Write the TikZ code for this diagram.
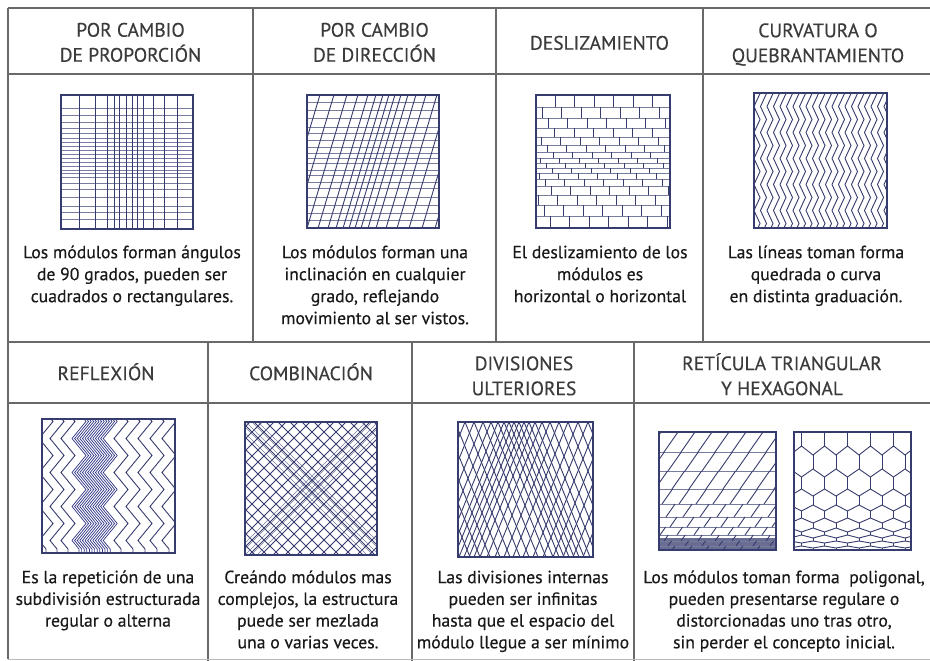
\documentclass[tikz,border=0pt]{standalone}
\usepackage{fontspec}
\setmainfont{PT Sans}[FakeBold=0.35]
\usetikzlibrary{decorations.pathmorphing}
\definecolor{pat}{RGB}{55,60,110}
\definecolor{patl}{RGB}{120,125,160}
\definecolor{rule}{RGB}{105,105,105}
\definecolor{txt}{RGB}{25,25,25}
\tikzset{
  pl/.style={draw=pat, line width=0.9pt},
  pll/.style={draw=patl, line width=0.8pt},
  boxframe/.style={draw=pat, line width=1.1pt},
  tabline/.style={draw=rule, line width=1.3pt},
  hdline/.style={draw=rule, line width=1.8pt},
  ttl/.style={font=\fontsize{19.5}{25}\selectfont, text=txt!85, align=center, inner sep=0pt, anchor=north},
  bodytxt/.style={font=\fontsize{17.7}{22}\selectfont, text=txt, align=center, inner sep=0pt, anchor=north},
  bodytxtb/.style={font=\fontsize{17.7}{21.7}\selectfont, text=txt, align=center, inner sep=0pt, anchor=north},
  zz/.style={decorate, decoration={zigzag, segment length=#1}},
}
\begin{document}
\begin{tikzpicture}[x=1pt,y=-1pt]
\useasboundingbox (0,0) rectangle (930,661);
\fill[white] (0,0) rectangle (930,661);

% ---------- table ----------
\draw[tabline] (8,8) -- (930,8);
\draw[tabline] (8,8) -- (8,659);
\draw[hdline] (8,74) -- (930,74);
\draw[tabline] (8,342) -- (930,342);
\draw[hdline] (8,403) -- (930,403);
\foreach \x in {253,496,703} \draw[tabline] (\x,8) -- (\x,342);
\foreach \x in {208,412,634} \draw[tabline] (\x,342) -- (\x,661);
\draw[rule!45, line width=1pt] (8,659) -- (930,659);

% ---------- titles ----------
\node[ttl] (t1) at (130.5,19) {\strut POR CAMBIO\\DE PROPORCIÓN};
\node[ttl] (t2) at (374.5,19) {\strut POR CAMBIO\\DE DIRECCIÓN};
\node[ttl] (t3) at (599.5,32) {\strut DESLIZAMIENTO};
\node[ttl] (t4) at (818,19.5) {\strut CURVATURA O\\QUEBRANTAMIENTO};
\node[ttl] (t5) at (106,362.5) {\strut REFLEXIÓN};
\node[ttl] (t6) at (311,362.5) {\strut COMBINACIÓN};
\node[ttl] (t7) at (524,352.5) {\strut DIVISIONES\\ULTERIORES};
\node[ttl] (t8) at (782,352.5) {\strut RETÍCULA TRIANGULAR\\Y HEXAGONAL};

% ---------- body texts ----------
\node[bodytxt] (b1) at (132,242.6) {\strut Los módulos forman ángulos\\de 90 grados, pueden ser\\cuadrados o rectangulares.};
\node[bodytxt] (b2) at (375,242.6) {\strut Los módulos forman una\\inclinación en cualquier\\grado, reflejando\\movimiento al ser vistos.};
\node[bodytxt] (b3) at (600,242.6) {\strut El deslizamiento de los\\módulos es\\horizontal o horizontal};
\node[bodytxt] (b4) at (816,242.6) {\strut Las líneas toman forma\\quedrada o curva\\en distinta graduación.};
\node[bodytxtb] (b5) at (108,567.8) {\strut Es la repetición de una\\subdivisión estructurada\\regular o alterna};
\node[bodytxtb] (b6) at (308,567.8) {\strut Creándo módulos mas\\complejos, la estructura\\puede ser mezlada\\una o varias veces.};
\node[bodytxtb] (b7) at (523,567.8) {\strut Las divisiones internas\\pueden ser infinitas\\hasta que el espacio del\\módulo llegue a ser mínimo};
\node[bodytxtb] (b8) at (784,567.8) {\strut Los módulos toman forma\ \ poligonal,\\pueden presentarse regulare o\\distorcionadas uno tras otro,\\sin perder el concepto inicial.};

% ---------- 1: proporcion ----------
\begin{scope}
\clip (61,95) rectangle (193,229);
\foreach \y in {108,115,122,128,133,138,142,146,150,154,158,162,166,170,173,177,183,189,197,206,212,219}
  \draw[pll] (61,\y) -- (193,\y);
\foreach \x in {79,95,107,114,119,126,132,137,143,153,164,177}
  \draw[pl] (\x,95) -- (\x,229);
\end{scope}
\draw[boxframe] (61,95) rectangle (193,229);

% ---------- 2: direccion ----------
\begin{scope}
\clip (307,95) rectangle (439,228);
\foreach \y in {102,110,118,127,133,140,147,153,158,163,170,175,182,188,197,205,213,220}
  \draw[pll] (307,\y) -- (439,\y);
\foreach \m in {300,314,327,338,348,356,363,369,375,381,388,396,406,417,429,442,455}
  \draw[pl] (\m-22,235) -- (\m+22,88);
\end{scope}
\draw[boxframe] (307,95) rectangle (439,228);

% ---------- 3: deslizamiento ----------
\begin{scope}
\clip (536,95) rectangle (670,228);
\foreach \y in {107,118,128,137,145,152,158,163,168,173,179,186,195,205,216}
  \draw[pll] (536,\y) -- (670,\y);
\foreach \ya/\yb/\o in {95/107/19,107/118/6,118/128/12,128/137/18.5,137/145/5,145/152/11,152/158/17,158/163/4,163/168/10,168/173/16,173/179/3,179/186/9,186/195/15,195/205/2,205/216/8,216/228/14}
  \foreach \k in {-1,...,7}
    \draw[pl] (536+\o+\k*19.5,\ya) -- (536+\o+\k*19.5,\yb);
\end{scope}
\draw[boxframe] (536,95) rectangle (670,228);

% ---------- 4: curvatura ----------
\begin{scope}
\clip (754,93) rectangle (887,228);
\foreach \i in {0,...,20}
  \draw[pl, zz=26, decoration={amplitude=3}] (757+\i*6.5,87) -- (757+\i*6.5,235);
\end{scope}
\draw[boxframe] (754,93) rectangle (887,228);

% ---------- 5: reflexion ----------
\begin{scope}
\clip (42,419) rectangle (175,553);
\foreach \x in {46,57,68,121,133,145,157,169}
  \draw[pl, zz=34, decoration={amplitude=7}] (\x,413) -- (\x,560);
\foreach \i in {0,...,12}
  \draw[draw=pat!85!blue, line width=0.7pt, zz=34, decoration={amplitude=7}] (79+\i*2.6,413) -- (79+\i*2.6,560);
\end{scope}
\draw[boxframe] (42,419) rectangle (175,553);

% ---------- 6: combinacion ----------
\begin{scope}
\clip (245,422) rectangle (377,555);
\foreach \x in {100,112,...,390}
  \draw[pl, line width=1pt] (\x,560) -- (\x+145,415);
\foreach \x in {103,115,...,390}
  \draw[pl, line width=1pt] (\x,415) -- (\x+145,560);
\foreach \x in {227,233,...,252}
  {\draw[pll, line width=0.6pt] (\x,415) -- (\x+145,560);
   \draw[pll, line width=0.6pt] (\x+1,560) -- (\x+146,415);}
\end{scope}
\draw[boxframe] (245,422) rectangle (377,555);

% ---------- 7: divisiones ulteriores ----------
\begin{scope}
\clip (458,422) rectangle (593,557);
\foreach \t in {395,405,415,425,435,445,455,465,474,483,491,498,504,509,514,519,524,529,535,542,550,559,568,578,588,598,608,618,628,638,648}
  {\draw[pl] (\t,422) -- (\t+55,557);
   \draw[pl] (\t,422) -- (\t-55,557);}
\end{scope}
\draw[boxframe] (458,422) rectangle (593,557);

% ---------- 8a: triangular ----------
\begin{scope}
\clip (659,432) rectangle (776,550);
\fill[pat!75] (659,538) rectangle (776,550);
\foreach \y in {452,471,489,504,517,527,535,541,546}
  \draw[pll] (659,\y) -- (776,\y);
\foreach \ya/\yb/\o in {432/452/5,452/471/9,471/489/13,489/504/3,504/517/7,517/527/11,527/535/1,535/541/5,541/546/9,546/550/13}
  \foreach \k in {-1,...,7}
    \draw[pl] (659+\o+\k*17,\yb) -- (659+\o+\k*17+0.7*\yb-0.7*\ya,\ya);
\end{scope}
\draw[boxframe] (659,432) rectangle (776,550);

% ---------- 8b: hexagonal ----------
\begin{scope}
\clip (794,432) rectangle (911,550);
\foreach \h/\d/\k in {420/9/0,446/9/1,469/8/2,489/7/3,505/6/4,518/5/5,528/4/6,535/3/7,541/2/8,546/2/9}
  \draw[pl] (790,{\h+\d*mod(\k,2)}) \foreach \j in {1,...,11} { -- (790+\j*11.5,{\h+\d*mod(\j+\k,2)}) };
\foreach \h/\d/\hn/\s in {420/9/446/1,446/9/469/0,469/8/489/1,489/7/505/0,505/6/518/1,518/5/528/0,528/4/535/1,535/3/541/0,541/2/546/1,546/2/552/0}
  \foreach \j in {0,...,5}
    \draw[pl] (790+2*\j*11.5+\s*11.5,\h+\d) -- (790+2*\j*11.5+\s*11.5,\hn);
\end{scope}
\draw[boxframe] (794,432) rectangle (911,550);

\end{tikzpicture}
\end{document}
